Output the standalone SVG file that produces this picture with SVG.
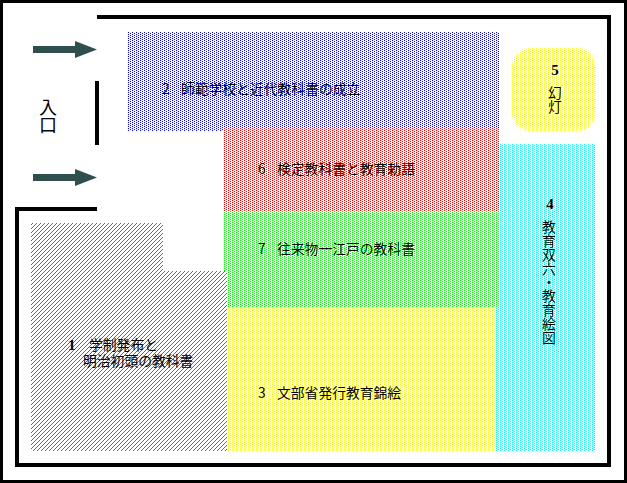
<svg xmlns="http://www.w3.org/2000/svg" width="627" height="483" viewBox="0 0 627 483">
<style>
text{font-family:"Noto Sans CJK JP","Liberation Sans",sans-serif;font-size:13.8px;fill:#000}
.n{font-family:"Liberation Serif",serif;font-weight:bold;font-size:15px}
.v{writing-mode:vertical-rl}
.w{fill:none;stroke:#000;stroke-width:4}
</style>
<defs>
<pattern id="pb" width="4" height="4" patternUnits="userSpaceOnUse"><path d="M0 0h1v1h-1zM2 1h1v1h-1zM0 2h1v1h-1zM2 3h1v1h-1z" fill="#00f"/></pattern>
<pattern id="pr" width="4" height="4" patternUnits="userSpaceOnUse"><path d="M0 0h1v1h-1zM2 1h1v1h-1zM0 2h1v1h-1zM2 3h1v1h-1z" fill="#f00"/></pattern>
<pattern id="pg" width="4" height="4" patternUnits="userSpaceOnUse"><path d="M0 0h1v1h-1zM2 1h1v1h-1zM0 2h1v1h-1zM2 3h1v1h-1z" fill="#0f0"/></pattern>
<pattern id="py" width="4" height="4" patternUnits="userSpaceOnUse"><path d="M0 0h1v1h-1zM2 1h1v1h-1zM0 2h1v1h-1zM2 3h1v1h-1z" fill="#ff0"/></pattern>
<pattern id="pc" width="4" height="4" patternUnits="userSpaceOnUse"><path d="M0 0h1v1h-1zM2 1h1v1h-1zM0 2h1v1h-1zM2 3h1v1h-1z" fill="#0ff"/></pattern>
<pattern id="pm" width="4" height="4" patternUnits="userSpaceOnUse"><path d="M3 0h1v1h-1zM2 1h1v1h-1zM1 2h1v1h-1zM0 3h1v1h-1z" fill="#f0f"/></pattern>
</defs>
<rect width="627" height="483" fill="#fff"/>
<rect x="1.500" y="1.500" width="624" height="480" fill="none" stroke="#000" stroke-width="3"/>
<g id="walls">
<path class="w" d="M97 17H609V465H17V209H97"/>
<path class="w" d="M97 81V145"/>
</g>
<g id="connectors" fill="#2f4f4f">
<path d="M33 46H75V41L97 49.500L75 58V53H33Z"/>
<path d="M33 174H75V169L97 177.500L75 186V181H33Z"/>
</g>
<g id="entrance"><text class="v" x="48" y="98" style="font-size:18px">入口</text></g>
<g id="n2"><path d="M128 32H499V128H224V131H128Z" fill="url(#pb)"/><text x="162" y="94"><tspan>2</tspan><tspan x="181">師範学校と近代教科書の成立</tspan></text></g>
<g id="n6"><rect x="224" y="128" width="275" height="83" fill="url(#pr)"/><text x="258" y="174"><tspan>6</tspan><tspan x="277">検定教科書と教育勅語</tspan></text></g>
<g id="n7"><path d="M224 211H499V307H227V271H224Z" fill="url(#pg)"/><text x="258" y="254"><tspan>7</tspan><tspan x="277">往来物一江戸の教科書</tspan></text></g>
<g id="n3"><rect x="227" y="307" width="268" height="144" fill="url(#py)"/><text x="258" y="398"><tspan>3</tspan><tspan x="277">文部省発行教育錦絵</tspan></text></g>
<g id="n1"><path d="M31 223H163V271H227V451H31Z" fill="url(#pm)"/><text><tspan class="n" x="68" y="350">1</tspan><tspan x="89" y="350">学制発布と</tspan><tspan x="83" y="366">明治初頭の教科書</tspan></text></g>
<g id="n4"><path d="M499 144H595V451H495V307H499Z" fill="url(#pc)"/><text class="n" x="550" y="209" text-anchor="middle">4</text><text class="v" x="549" y="220">教育双六・教育絵図</text></g>
<g id="n5"><rect x="512" y="48" width="83" height="83" rx="18" fill="url(#py)"/><text class="n" x="555" y="75" text-anchor="middle">5</text><text class="v" x="555" y="86">幻灯</text></g>
</svg>
